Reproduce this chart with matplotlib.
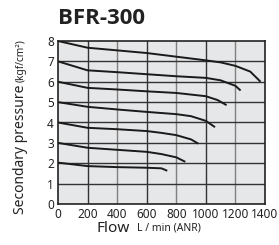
import matplotlib
matplotlib.use("Agg")
import matplotlib.pyplot as plt

plt.rcParams['font.family'] = ['Noto Sans', 'DejaVu Sans']

title = "BFR-300"
x_ticks = [0, 200, 400, 600, 800, 1000, 1200, 1400]
y_ticks = [0, 1, 2, 3, 4, 5, 6, 7, 8]

curve8_x = [0, 200, 600, 1000, 1100, 1200, 1300, 1370]
curve8_y = [8.0, 7.67, 7.41, 7.05, 6.95, 6.78, 6.5, 6.0]
curve7_x = [0, 200, 400, 600, 800, 1000, 1100, 1200, 1235]
curve7_y = [7.0, 6.56, 6.47, 6.37, 6.27, 6.19, 6.07, 5.8, 5.57]
curve6_x = [0, 200, 400, 600, 800, 900, 1000, 1080, 1140]
curve6_y = [6.0, 5.70, 5.62, 5.53, 5.45, 5.37, 5.29, 5.1, 4.85]
curve5_x = [0, 200, 400, 600, 800, 900, 1000, 1062]
curve5_y = [5.0, 4.77, 4.64, 4.52, 4.41, 4.31, 4.08, 3.77]
curve4_x = [0, 200, 400, 600, 700, 800, 900, 949]
curve4_y = [4.0, 3.74, 3.67, 3.58, 3.49, 3.38, 3.17, 2.96]
curve3_x = [0, 200, 400, 600, 700, 800, 861]
curve3_y = [3.0, 2.76, 2.66, 2.56, 2.45, 2.29, 2.07]
curve2_x = [0, 200, 400, 600, 700, 739]
curve2_y = [2.03, 1.86, 1.81, 1.78, 1.75, 1.63]

curves = [(curve8_x, curve8_y), (curve7_x, curve7_y), (curve6_x, curve6_y),
          (curve5_x, curve5_y), (curve4_x, curve4_y), (curve3_x, curve3_y),
          (curve2_x, curve2_y)]

fig = plt.figure(figsize=(2.79, 2.45), dpi=100)
ax = fig.add_axes([58/279, 1 - 204/245, (265-58)/279, (204-41)/245])
ax.set_facecolor('#e6e7e8')
ax.set_xlim(0, 1400)
ax.set_ylim(0, 8)

for xv in x_ticks[1:-1]:
    c = '#333333' if (xv // 200) % 2 == 1 else '#808080'
    ax.axvline(xv, color=c, lw=1.0, zorder=1)
for yv in y_ticks[1:-1]:
    ax.axhline(yv, color='#333333', lw=1.0, zorder=1)

for cx, cy in curves:
    ax.plot(cx, cy, color='#1a1a1a', lw=1.4, zorder=3, solid_capstyle='butt')

ax.set_xticks(x_ticks)
ax.set_yticks(y_ticks)
ax.tick_params(length=0, labelsize=8.5, colors='#222222', pad=3)
for s in ax.spines.values():
    s.set_color('#222222')
    s.set_linewidth(1.2)

fig.text(58/279, 1 - 19/245, title, fontsize=16, fontweight='bold', color='#222222',
         family=['Open Sans', 'DejaVu Sans'], ha='left', va='center')

fig.text(97/279, 1 - 228/245, "Flow", fontsize=11, color='#222222', ha='left', va='center')
fig.text(137/279, 1 - 228/245, "L / min (ANR)", fontsize=7.5, color='#222222', ha='left', va='center')

fig.text(24/279, 1 - 214/245, "Secondary pressure", fontsize=10, color='#222222',
         rotation=90, rotation_mode='anchor', ha='left', va='baseline')
fig.text(24/279, 1 - 82/245, "(kgf/cm²)", fontsize=7.3, color='#222222',
         rotation=90, rotation_mode='anchor', ha='left', va='baseline')

fig.savefig("out.png", dpi=100)
